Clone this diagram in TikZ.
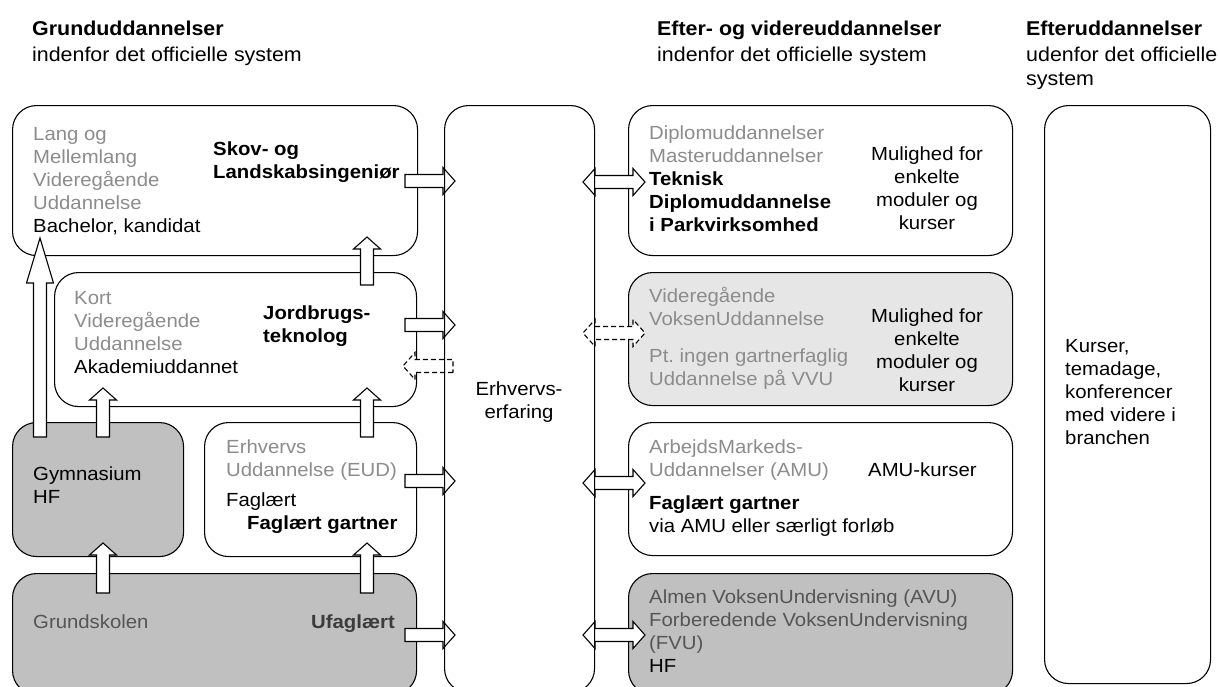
\documentclass[tikz,border=0pt]{standalone}
\usepackage{fontspec}
\setmainfont{Liberation Sans}[FakeStretch=1.07]
\usetikzlibrary{calc}

\definecolor{boxgray}{HTML}{C0C0C0}
\definecolor{boxlight}{HTML}{E6E6E6}
\definecolor{txtgray}{HTML}{8C8C8C}
\definecolor{txtdark}{HTML}{555555}
\definecolor{txtbold}{HTML}{3C3C3C}

\newcommand{\bodyfont}{\fontsize{19}{23}\selectfont}
\newcommand{\hdrfont}{\fontsize{20}{24}\selectfont}
\newcommand{\fl}{\rule{0pt}{16pt}}
\newcommand{\blk}[1]{\textcolor{black}{#1}}
\newcommand{\blkb}[1]{\textcolor{black}{\textbf{#1}}}
\def\arrshaft{6.5}
\def\arrhead{13.5}
\def\arrlen{12}

\tikzset{
	box/.style={draw, line width=1.1pt, rounded corners=24pt, anchor=north west, inner sep=0pt},
	whitebox/.style={box, fill=white},
	graybox/.style={box, fill=boxgray},
	lightbox/.style={box, fill=boxlight},
	lbl/.style={anchor=north west, inner sep=0pt, align=left, font=\bodyfont, text=txtgray},
	lblc/.style={lbl, anchor=north, align=center, text=black},
	lblb/.style={lbl, font=\bodyfont\bfseries, text=black},
	hdr/.style={anchor=north west, inner sep=0pt, align=left, font=\hdrfont, text=black},
	blockarrow/.style={draw, fill=white, line width=1.1pt, to path={
			let \p1=(\tikztostart), \p2=(\tikztotarget),
			\n1={atan2(\y2-\y1,\x2-\x1)}, \n2={veclen(\x2-\x1,\y2-\y1)} in
			{[shift={(\p1)}, rotate=\n1]
				(0,-\arrshaft) -- (\n2-\arrlen,-\arrshaft) -- (\n2-\arrlen,-\arrhead) --
				(\n2,0) -- (\n2-\arrlen,\arrhead) -- (\n2-\arrlen,\arrshaft) --
				(0,\arrshaft) -- cycle}}},
	bigarrow/.style={blockarrow, /utils/exec={\def\arrlen{45}}},
	dblarrow/.style={draw, fill=white, line width=1.1pt, to path={
			let \p1=(\tikztostart), \p2=(\tikztotarget),
			\n1={atan2(\y2-\y1,\x2-\x1)}, \n2={veclen(\x2-\x1,\y2-\y1)} in
			{[shift={(\p1)}, rotate=\n1]
				(\arrlen,-\arrshaft) -- (\n2-\arrlen,-\arrshaft) -- (\n2-\arrlen,-\arrhead) --
				(\n2,0) -- (\n2-\arrlen,\arrhead) -- (\n2-\arrlen,\arrshaft) --
				(\arrlen,\arrshaft) -- (\arrlen,\arrhead) -- (0,0) --
				(\arrlen,-\arrhead) -- cycle}}},
	dashedarrow/.style={dash pattern=on 5pt off 3pt},
}

\begin{document}
\begin{tikzpicture}[x=1pt,y=-1pt]
		\clip (0,0) rectangle (1220,686);
		%
		\node[hdr] (hdrgrund) at (32,19) {\fl\textbf{Grunduddannelser}\\[2pt]indenfor det officielle system};
		\node[hdr] (hdrefter) at (657,19) {\fl\textbf{Efter- og videreuddannelser}\\[2pt]indenfor det officielle system};
		\node[hdr] (hdrude) at (1026,19) {\fl\textbf{Efteruddannelser}\\[2pt]udenfor det officielle\\system};
		%
		\node[whitebox, minimum width=405pt, minimum height=150pt] (lang) at (12,105) {};
		\node[whitebox, minimum width=362pt, minimum height=134pt] (kort) at (54,272) {};
		\node[graybox, minimum width=171pt, minimum height=134pt] (gym) at (12,422) {};
		\node[whitebox, minimum width=212pt, minimum height=134pt] (eud) at (204,422) {};
		\node[graybox, minimum width=404pt, minimum height=121pt] (grund) at (12,573) {};
		\node[whitebox, minimum width=384pt, minimum height=150pt] (diplom) at (628,105) {};
		\node[lightbox, minimum width=384pt, minimum height=133pt] (vvu) at (628,272) {};
		\node[whitebox, minimum width=384pt, minimum height=133pt] (amu) at (628,422) {};
		\node[graybox, minimum width=384pt, minimum height=121pt] (avu) at (628,573) {};
		\node[whitebox, minimum width=166pt, minimum height=578pt] (kurs) at (1044,105) {};
		%
		\node[lbl] (langtxt) at (33,124) {\fl Lang og\\Mellemlang\\Videregående\\Uddannelse\\\blk{Bachelor, kandidat}};
		\node[lblb] (langbold) at (213,139) {\fl Skov- og\\Landskabsingeniør};
		\node[lbl] (korttxt) at (74,288) {\fl Kort\\Videregående\\Uddannelse\\\blk{Akademiuddannet}};
		\node[lblb] (kortbold) at (263,303) {\fl Jordbrugs-\\teknolog};
		\node[lbl, text=black] (gymtxt) at (33,464) {\fl Gymnasium\\HF};
		\node[lbl] (eudtxt) at (226,437) {\fl Erhvervs\\Uddannelse (EUD)\\[7pt]\blk{Faglært}};
		\node[lblb] (eudbold) at (247,513) {\fl Faglært gartner};
		\node[lbl, text=txtdark] (grundtxt) at (33,612) {\fl Grundskolen};
		\node[lblb, anchor=north east, text=txtbold] (grundbold) at (395,612) {\fl Ufaglært};
		%
		\node[lbl] (diptxt) at (649,123) {\fl Diplomuddannelser\\Masteruddannelser\\\blkb{Teknisk}\\\blkb{Diplomuddannelse}\\\blkb{i Parkvirksomhed}};
		\node[lblc] (dipright) at (927,144) {\fl Mulighed for\\enkelte\\moduler og\\kurser};
		\node[lbl] (vvutxt) at (649,286) {\fl Videregående\\VoksenUddannelse\\[14pt]Pt.\ ingen gartnerfaglig\\Uddannelse på VVU};
		\node[lblc] (vvuright) at (927,306) {\fl Mulighed for\\enkelte\\moduler og\\kurser};
		\node[lbl] (amutxt) at (649,437) {\fl ArbejdsMarkeds-\\Uddannelser (AMU)\\[10pt]\blkb{Faglært gartner}\\\blk{via AMU eller særligt forløb}};
		\node[lbl, text=black] (amuright) at (868,460) {\fl AMU-kurser};
		\node[lbl, text=txtdark] (avutxt) at (649,587) {\fl Almen VoksenUndervisning (AVU)\\Forberedende VoksenUndervisning\\(FVU)\\\blk{HF}};
		\node[lbl, text=black] (kurstxt) at (1065,336) {\fl Kurser,\\temadage,\\konferencer\\med videre i\\branchen};
		\node[lblc] (erhvtxt) at (519,379) {\fl Erhvervs-\\erfaring};
		%
		\coordinate (gym-up) at (40,437);    \coordinate (lang-in) at (40,238);
		\coordinate (gym-kort) at (103,437); \coordinate (kort-ina) at (103,388);
		\coordinate (eud-kort) at (367,437); \coordinate (kort-inb) at (367,388);
		\coordinate (kort-up) at (367,285);  \coordinate (lang-inb) at (367,237);
		\coordinate (grund-gym) at (103,593); \coordinate (gym-in) at (103,543);
		\coordinate (grund-eud) at (367,593); \coordinate (eud-in) at (367,543);
		%
		\draw[bigarrow] (gym-up) to (lang-in);
		\draw[blockarrow] (gym-kort) to (kort-ina);
		\draw[blockarrow] (eud-kort) to (kort-inb);
		\draw[blockarrow] (kort-up) to (lang-inb);
		\draw[blockarrow] (grund-gym) to (gym-in);
		\draw[blockarrow] (grund-eud) to (eud-in);
		%
		\coordinate (lang-out) at (405,181);  \coordinate (erhv-a) at (455,181);
		\coordinate (kort-out) at (405,325);  \coordinate (erhv-b) at (455,325);
		\coordinate (erhv-back) at (453,366); \coordinate (kort-back) at (403,366);
		\coordinate (eud-out) at (405,481);   \coordinate (erhv-c) at (455,481);
		\coordinate (grund-out) at (405,635); \coordinate (erhv-d) at (455,635);
		%
		\draw[blockarrow] (lang-out) to (erhv-a);
		\draw[blockarrow] (kort-out) to (erhv-b);
		\draw[blockarrow, dashedarrow] (erhv-back) to (kort-back);
		\draw[blockarrow] (eud-out) to (erhv-c);
		\draw[blockarrow] (grund-out) to (erhv-d);
		%
		\coordinate (erhv-e) at (583,182); \coordinate (diplom-in) at (645,182);
		\coordinate (erhv-f) at (583,333); \coordinate (vvu-in) at (645,333);
		\coordinate (erhv-g) at (583,483); \coordinate (amu-in) at (645,483);
		\coordinate (erhv-h) at (583,635); \coordinate (avu-in) at (645,635);
		%
		\draw[dblarrow] (erhv-e) to (diplom-in);
		\draw[dblarrow, dashedarrow] (erhv-f) to (vvu-in);
		\draw[dblarrow] (erhv-g) to (amu-in);
		\draw[dblarrow] (erhv-h) to (avu-in);
		%
		\node[box, minimum width=150pt, minimum height=587pt] (erhv) at (444,105) {};
		\end{tikzpicture}
\end{document}
